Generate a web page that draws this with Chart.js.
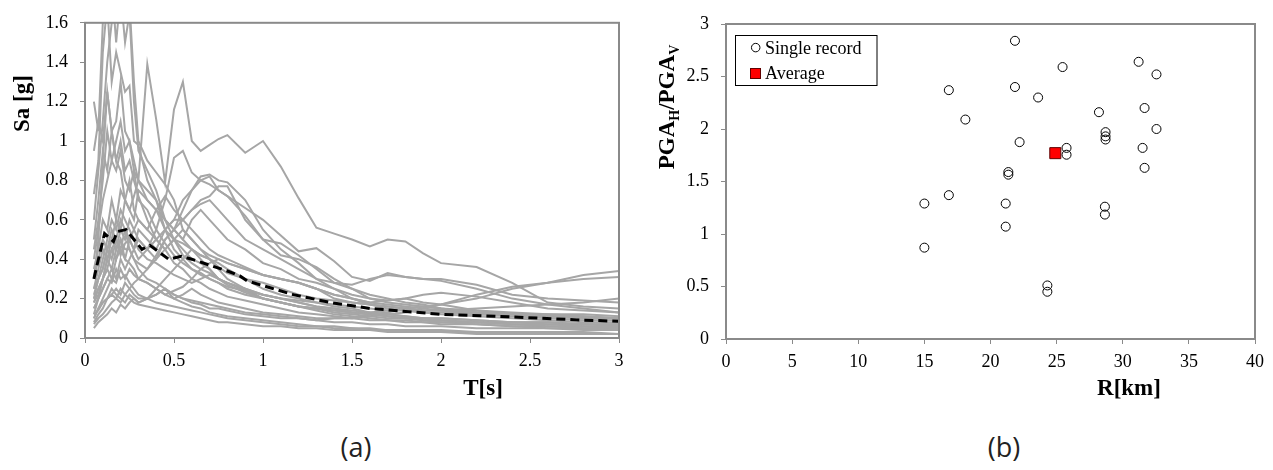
<!DOCTYPE html>
<html><head><meta charset="utf-8">
<script src="https://cdn.jsdelivr.net/npm/chart.js@4/dist/chart.umd.min.js"></script>
<style>
html,body{margin:0;padding:0;background:#fff;}
body{width:1273px;height:470px;position:relative;overflow:hidden;}
#wa{position:absolute;left:0;top:0;width:640px;height:405px;}
#wb{position:absolute;left:640px;top:0;width:633px;height:405px;}
.cap{position:absolute;top:433px;font-family:"Open Sans";font-size:27px;line-height:27px;color:#222;transform:translateX(-50%);}
</style></head><body>
<div id="wa"><canvas id="ca" width="640" height="405"></canvas></div>
<div id="wb"><canvas id="cb" width="633" height="405"></canvas></div>
<div class="cap" style="left:356px">(a)</div>
<div class="cap" style="left:1004px">(b)</div>
<script>
// ---------- Panel (a): spectral acceleration vs period ----------
const periods = [0.05,0.075,0.1,0.125,0.15,0.175,0.2,0.225,0.25,0.275,0.3, 0.35,0.4,0.45,0.5,0.55,0.6,0.65,0.7,0.75,0.8, 0.9,1.0, 1.1,1.2,1.3,1.4,1.5,1.6,1.7,1.8,1.9,2.0, 2.2,2.4,2.6,2.8,3.0];
const s01 = [0.95,1.1,1.0,1.25,1.05,0.9,0.85,0.7,0.65,0.72,0.8, 1.39,1.11,0.79,1.16,1.30,1.0,0.95,0.98,1.01,1.03, 0.94,1.0, 0.87,0.71,0.56,0.53,0.50,0.465,0.50,0.49,0.43,0.38, 0.36,0.28,0.18,0.16,0.15];
const s02 = [0.25,0.35,0.45,0.4,0.5,0.45,0.55,0.5,0.6,0.55,0.5, 0.45,0.55,0.7,0.915,0.95,0.84,0.80,0.78,0.75,0.72, 0.66,0.6, 0.52,0.44,0.456,0.39,0.31,0.29,0.33,0.31,0.30,0.30, 0.27,0.22,0.2,0.19,0.18];
const s03 = [1.2,1.05,1.6,1.7,1.8,1.5,1.75,1.5,1.65,1.2,0.95, 0.85,0.75,0.6,0.5,0.45,0.4,0.38,0.35,0.3,0.28, 0.25,0.22, 0.2,0.18,0.16,0.15,0.13,0.12,0.11,0.1,0.09,0.09, 0.08,0.07,0.07,0.06,0.06];
const s04 = [0.73,0.9,1.45,1.7,1.3,1.45,1.35,1.25,1.28,1.0,0.98, 0.8,0.7,0.55,0.5,0.42,0.38,0.35,0.33,0.3,0.27, 0.23,0.2, 0.18,0.16,0.15,0.13,0.12,0.11,0.1,0.1,0.09,0.08, 0.08,0.07,0.06,0.06,0.05];
const s05 = [0.6,0.85,1.1,1.4,1.6,1.75,1.65,1.9,1.7,1.3,1.0, 0.9,0.84,0.78,0.7,0.55,0.5,0.45,0.4,0.38,0.35, 0.3,0.25, 0.22,0.2,0.18,0.16,0.15,0.13,0.12,0.11,0.1,0.1, 0.09,0.08,0.08,0.07,0.07];
const s06 = [0.3,0.5,0.9,1.25,1.05,1.1,1.3,1.05,1.0,0.9,0.8, 0.7,0.65,0.55,0.45,0.4,0.35,0.33,0.3,0.28,0.26, 0.24,0.22, 0.2,0.19,0.18,0.17,0.16,0.15,0.14,0.14,0.13,0.13, 0.12,0.12,0.11,0.11,0.1];
const s07 = [0.5,0.7,0.95,0.85,1.05,0.9,1.0,0.85,0.9,0.8,0.72, 0.6,0.5,0.45,0.38,0.35,0.3,0.28,0.25,0.23,0.21, 0.19,0.17, 0.15,0.13,0.12,0.11,0.1,0.09,0.09,0.08,0.08,0.07, 0.07,0.06,0.05,0.05,0.05];
const s08 = [0.2,0.25,0.3,0.35,0.3,0.4,0.45,0.4,0.5,0.45,0.55, 0.5,0.45,0.55,0.6,0.7,0.75,0.82,0.83,0.8,0.79, 0.7,0.55, 0.45,0.38,0.3,0.25,0.2,0.17,0.15,0.14,0.13,0.12, 0.11,0.1,0.09,0.08,0.08];
const s09 = [0.15,0.2,0.25,0.3,0.35,0.3,0.4,0.35,0.4,0.45,0.5, 0.45,0.4,0.5,0.55,0.65,0.75,0.8,0.82,0.75,0.72, 0.62,0.5, 0.42,0.4,0.36,0.3,0.25,0.22,0.2,0.18,0.17,0.15, 0.13,0.12,0.11,0.1,0.1];
const s10 = [0.25,0.3,0.35,0.45,0.4,0.5,0.45,0.55,0.5,0.45,0.4, 0.45,0.5,0.55,0.6,0.6,0.65,0.7,0.72,0.77,0.77, 0.6,0.5, 0.48,0.42,0.35,0.28,0.25,0.2,0.19,0.2,0.18,0.17, 0.14,0.13,0.12,0.12,0.11];
const s11 = [0.18,0.22,0.3,0.35,0.45,0.4,0.5,0.45,0.45,0.4,0.38, 0.35,0.42,0.5,0.55,0.6,0.65,0.68,0.7,0.65,0.6, 0.5,0.45, 0.4,0.35,0.3,0.28,0.27,0.3,0.32,0.31,0.3,0.29, 0.25,0.2,0.17,0.15,0.13];
const s12 = [0.1,0.15,0.2,0.25,0.3,0.28,0.35,0.3,0.35,0.32,0.3, 0.28,0.25,0.22,0.2,0.22,0.25,0.22,0.2,0.18,0.17, 0.15,0.13, 0.12,0.11,0.1,0.1,0.1,0.11,0.12,0.13,0.15,0.17, 0.22,0.26,0.28,0.32,0.34];
const s13 = [0.08,0.12,0.15,0.2,0.22,0.25,0.22,0.28,0.25,0.22,0.2, 0.2,0.22,0.25,0.22,0.2,0.18,0.17,0.15,0.15,0.14, 0.12,0.11, 0.1,0.1,0.09,0.1,0.1,0.12,0.13,0.15,0.16,0.17, 0.2,0.25,0.28,0.3,0.31];
const s14 = [0.05,0.08,0.1,0.12,0.15,0.13,0.17,0.15,0.18,0.2,0.18, 0.2,0.22,0.25,0.2,0.18,0.16,0.15,0.13,0.12,0.11, 0.1,0.09, 0.08,0.07,0.06,0.06,0.05,0.05,0.04,0.04,0.04,0.04, 0.03,0.03,0.03,0.03,0.02];
const s15 = [0.1,0.15,0.18,0.2,0.25,0.22,0.2,0.18,0.22,0.2,0.18, 0.2,0.25,0.3,0.35,0.4,0.45,0.42,0.4,0.35,0.3, 0.25,0.2, 0.18,0.16,0.14,0.12,0.11,0.1,0.09,0.09,0.08,0.08, 0.07,0.06,0.06,0.05,0.05];
const s16 = [0.15,0.2,0.3,0.4,0.35,0.45,0.5,0.4,0.38,0.35,0.3, 0.28,0.25,0.22,0.24,0.26,0.3,0.35,0.38,0.4,0.38, 0.35,0.32, 0.3,0.28,0.25,0.22,0.2,0.18,0.19,0.2,0.22,0.23, 0.21,0.18,0.15,0.14,0.13];
const s17 = [0.12,0.2,0.25,0.3,0.28,0.35,0.3,0.32,0.28,0.25,0.22, 0.2,0.18,0.17,0.16,0.15,0.14,0.13,0.12,0.11,0.1, 0.09,0.08, 0.07,0.06,0.06,0.05,0.05,0.04,0.04,0.04,0.03,0.03, 0.03,0.03,0.02,0.02,0.02];
const s18 = [0.2,0.3,0.4,0.5,0.6,0.55,0.65,0.6,0.55,0.5,0.45, 0.4,0.38,0.35,0.32,0.3,0.28,0.3,0.32,0.3,0.28, 0.25,0.22, 0.2,0.18,0.16,0.15,0.14,0.13,0.12,0.11,0.1,0.1, 0.09,0.08,0.08,0.07,0.07];
const s19 = [0.35,0.45,0.6,0.55,0.7,0.6,0.75,0.7,0.8,0.65,0.6, 0.55,0.5,0.45,0.5,0.55,0.5,0.45,0.42,0.4,0.38, 0.35,0.32, 0.3,0.28,0.25,0.22,0.2,0.18,0.17,0.16,0.15,0.14, 0.12,0.11,0.1,0.09,0.09];
const s20 = [0.4,0.55,0.7,0.8,0.9,0.85,0.95,0.8,0.75,0.85,0.7, 0.65,0.55,0.48,0.42,0.38,0.35,0.32,0.3,0.28,0.25, 0.22,0.2, 0.18,0.16,0.15,0.14,0.13,0.12,0.11,0.1,0.1,0.09, 0.08,0.08,0.07,0.07,0.06];
const s21 = [0.07,0.1,0.12,0.15,0.18,0.2,0.18,0.22,0.25,0.28,0.3, 0.35,0.4,0.45,0.5,0.48,0.45,0.4,0.35,0.3,0.28, 0.24,0.2, 0.18,0.16,0.15,0.14,0.13,0.13,0.14,0.15,0.16,0.15, 0.14,0.12,0.11,0.1,0.1];
const s22 = [0.22,0.3,0.35,0.45,0.5,0.6,0.55,0.7,0.65,0.6,0.75, 0.7,0.65,0.6,0.55,0.5,0.6,0.65,0.6,0.55,0.5, 0.45,0.38, 0.35,0.3,0.28,0.25,0.22,0.2,0.18,0.17,0.16,0.15, 0.13,0.12,0.11,0.1,0.1];
const s23 = [0.3,0.4,0.5,0.45,0.55,0.5,0.6,0.55,0.45,0.4,0.35, 0.3,0.28,0.25,0.22,0.2,0.19,0.18,0.17,0.16,0.15, 0.13,0.12, 0.11,0.1,0.09,0.08,0.08,0.07,0.07,0.06,0.06,0.06, 0.05,0.05,0.05,0.04,0.04];
const s24 = [0.12,0.14,0.18,0.2,0.22,0.2,0.25,0.22,0.2,0.18,0.17, 0.16,0.15,0.14,0.13,0.12,0.11,0.1,0.09,0.08,0.08, 0.07,0.06, 0.06,0.05,0.05,0.04,0.04,0.04,0.03,0.03,0.03,0.03, 0.02,0.02,0.02,0.02,0.02];
const s25 = [0.45,0.6,0.8,1.05,0.9,1.0,1.1,0.95,1.0,0.85,0.8, 0.75,0.7,0.6,0.55,0.5,0.45,0.42,0.4,0.36,0.33, 0.3,0.28, 0.25,0.22,0.2,0.19,0.18,0.17,0.16,0.15,0.14,0.14, 0.13,0.12,0.12,0.11,0.1];
const s26 = [0.18,0.25,0.3,0.4,0.45,0.5,0.42,0.48,0.5,0.55,0.6, 0.55,0.65,0.72,0.65,0.6,0.55,0.5,0.45,0.42,0.4, 0.36,0.32, 0.3,0.28,0.25,0.2,0.18,0.17,0.16,0.15,0.14,0.14, 0.15,0.16,0.17,0.18,0.2];
const spectra = [s01,s02,s03,s04,s05,s06,s07,s08,s09,s10,s11,s12,s13,s14,s15,s16,s17,s18,s19,s20,s21,s22,s23,s24,s25,s26];

const meanPeriods = [0.05,0.065,0.11,0.16,0.18,0.23,0.32,0.365,0.47,0.54,0.6,0.8,0.87,0.91,1.04,1.17,1.38,1.6,2.0,2.4,2.76,3.0];
const meanSa      = [0.30,0.36,0.53,0.49,0.54,0.55,0.45,0.47,0.40,0.415,0.40,0.34,0.315,0.29,0.255,0.22,0.18,0.15,0.12,0.107,0.092,0.085];

// ---------- Panel (b): PGA_H/PGA_V vs distance ----------
const distanceKm = [15.0,15.0,16.85,16.85,18.1,21.15,21.15,21.35,21.35,21.85,21.85,22.2,23.6,24.3,24.3,25.45,25.75,25.75,28.2,28.7,28.7,28.7,28.65,28.65,31.2,31.65,31.5,31.65,32.55,32.55];
const ratioHV    = [1.29,0.87,2.37,1.37,2.09,1.29,1.07,1.59,1.565,2.84,2.40,1.875,2.30,0.51,0.45,2.59,1.82,1.755,2.16,1.97,1.93,1.90,1.26,1.185,2.64,2.20,1.82,1.63,2.52,2.00];
const avgDistance = [24.9];
const avgRatio    = [1.77];

// ---------- helpers / plugins ----------
const SERIF = '"Liberation Serif", "Times New Roman", serif';
const AXIS = '#8a8a8a';
Chart.defaults.font.family = SERIF;
const plainNum = v => String(+Number(v).toFixed(2));

const framePlugin = {
  id: 'frame',
  afterDatasetsDraw(chart, args, o) {
    const a = chart.chartArea, c = chart.ctx;
    c.save(); c.strokeStyle = o.color; c.lineWidth = o.width;
    c.strokeRect(a.left, a.top, a.right - a.left, a.bottom - a.top);
    c.restore();
  }
};
const titlePlugin = {
  id: 'axisTitles',
  afterDraw(chart, args, o) {
    const c = chart.ctx;
    (o.items || []).forEach(it => {
      c.save();
      c.fillStyle = '#000'; c.textBaseline = 'alphabetic'; c.textAlign = 'left';
      let total = 0;
      it.parts.forEach(p => { c.font = p.font; total += c.measureText(p.text).width; });
      c.translate(it.x, it.y);
      if (it.rotate) c.rotate(-Math.PI / 2);
      let x = -total / 2;
      it.parts.forEach(p => { c.font = p.font; c.fillText(p.text, x, p.dy || 0); x += c.measureText(p.text).width; });
      c.restore();
    });
  }
};
const boxLegendPlugin = {
  id: 'boxLegend',
  afterDraw(chart, args, o) {
    if (!o.box) return;
    const c = chart.ctx, b = o.box;
    c.save();
    c.fillStyle = '#fff'; c.fillRect(b.x, b.y, b.w, b.h);
    c.strokeStyle = '#000'; c.lineWidth = 1; c.strokeRect(b.x, b.y, b.w, b.h);
    c.font = o.font; c.textBaseline = 'alphabetic'; c.textAlign = 'left';
    o.rows.forEach(r => {
      const ds = chart.data.datasets[r.dataset];
      c.lineWidth = 1;
      if (ds.pointStyle === 'rect') {
        c.fillStyle = ds.backgroundColor; c.strokeStyle = ds.borderColor;
        c.fillRect(r.mx - r.size/2, r.my - r.size/2, r.size, r.size);
        c.strokeRect(r.mx - r.size/2, r.my - r.size/2, r.size, r.size);
      } else {
        c.strokeStyle = ds.borderColor;
        c.beginPath(); c.arc(r.mx, r.my, r.size/2, 0, Math.PI*2); c.stroke();
      }
      c.fillStyle = '#000';
      c.fillText(ds.label, r.tx, r.ty);
    });
    c.restore();
  }
};

function axisX(min, max, step, h) {
  return {
    type: 'linear', min, max,
    ticks: { stepSize: step, font: { family: SERIF, size: 18 }, color: '#000', padding: 7, maxRotation: 0, callback: plainNum },
    grid: { drawOnChartArea: false, drawTicks: true, tickLength: 5, color: AXIS, lineWidth: 1 },
    border: { display: false },
    afterFit(s) { s.height = h; }
  };
}
function axisY(min, max, step, w) {
  return {
    type: 'linear', min, max,
    ticks: { stepSize: step, font: { family: SERIF, size: 18 }, color: '#000', padding: 12, callback: plainNum },
    grid: { drawOnChartArea: false, drawTicks: true, tickLength: 5, color: AXIS, lineWidth: 1 },
    border: { display: false },
    afterFit(s) { s.width = w; }
  };
}

// ---------- chart (a) ----------
const dsA = [{
  label: 'Average',
  data: meanPeriods.map((t, i) => ({ x: t, y: meanSa[i] })),
  showLine: true, borderColor: '#000', borderWidth: 3, borderDash: [9, 5],
  pointRadius: 0, tension: 0, fill: false
}].concat(spectra.map((s, k) => ({
  label: 'Record ' + (k + 1),
  data: periods.map((t, i) => ({ x: t, y: s[i] })),
  showLine: true, borderColor: '#a6a6a6', borderWidth: 2,
  pointRadius: 0, tension: 0, fill: false
})));

new Chart(document.getElementById('ca'), {
  type: 'scatter',
  data: { datasets: dsA },
  options: {
    responsive: false, animation: false, events: [],
    layout: { padding: { left: 0, top: 18, right: 21, bottom: 0 } },
    scales: { x: axisX(0, 3, 0.5, 67), y: axisY(0, 1.6, 0.2, 85) },
    plugins: {
      legend: { display: false }, tooltip: { enabled: false },
      frame: { color: AXIS, width: 2 },
      axisTitles: { items: [
        { x: 28.5, y: 103.5, rotate: true, parts: [{ text: 'Sa [g]', font: 'bold 23px ' + SERIF }] },
        { x: 483, y: 395, rotate: false, parts: [{ text: 'T[s]', font: 'bold 23px ' + SERIF }] }
      ] }
    }
  },
  plugins: [framePlugin, titlePlugin]
});

// ---------- chart (b) ----------
new Chart(document.getElementById('cb'), {
  type: 'scatter',
  data: { datasets: [
    { label: 'Single record', data: distanceKm.map((d, i) => ({ x: d, y: ratioHV[i] })),
      pointStyle: 'circle', pointRadius: 4.5, borderColor: '#000', backgroundColor: 'rgba(0,0,0,0)', pointBorderWidth: 1, order: 1 },
    { label: 'Average', data: avgDistance.map((d, i) => ({ x: d, y: avgRatio[i] })),
      pointStyle: 'rect', pointRadius: 7.8, borderColor: '#600000', backgroundColor: '#ff0000', pointBorderWidth: 1, order: 0 }
  ] },
  options: {
    responsive: false, animation: false, events: [],
    layout: { padding: { left: 0, top: 24, right: 18, bottom: 0 } },
    scales: { x: axisX(0, 40, 5, 66), y: axisY(0, 3, 0.5, 86) },
    plugins: {
      legend: { display: false }, tooltip: { enabled: false },
      frame: { color: AXIS, width: 2 },
      axisTitles: { items: [
        { x: 34.3, y: 107, rotate: true, parts: [
          { text: 'PGA', font: 'bold 23px ' + SERIF },
          { text: 'H', font: 'bold 14px ' + SERIF, dy: 5 },
          { text: '/', font: 'bold 23px ' + SERIF },
          { text: 'PGA', font: 'bold 23px ' + SERIF },
          { text: 'V', font: 'bold 14px ' + SERIF, dy: 5 }
        ] },
        { x: 489, y: 395, rotate: false, parts: [{ text: 'R[km]', font: 'bold 23px ' + SERIF }] }
      ] },
      boxLegend: {
        font: '18px ' + SERIF,
        box: { x: 95.5, y: 35.5, w: 141.5, h: 50 },
        rows: [
          { dataset: 0, mx: 115.7, my: 47.6, size: 8.5, tx: 125, ty: 53.5 },
          { dataset: 1, mx: 115.5, my: 73.5, size: 10, tx: 125, ty: 78.5 }
        ]
      }
    }
  },
  plugins: [framePlugin, titlePlugin, boxLegendPlugin]
});
</script>
</body></html>
